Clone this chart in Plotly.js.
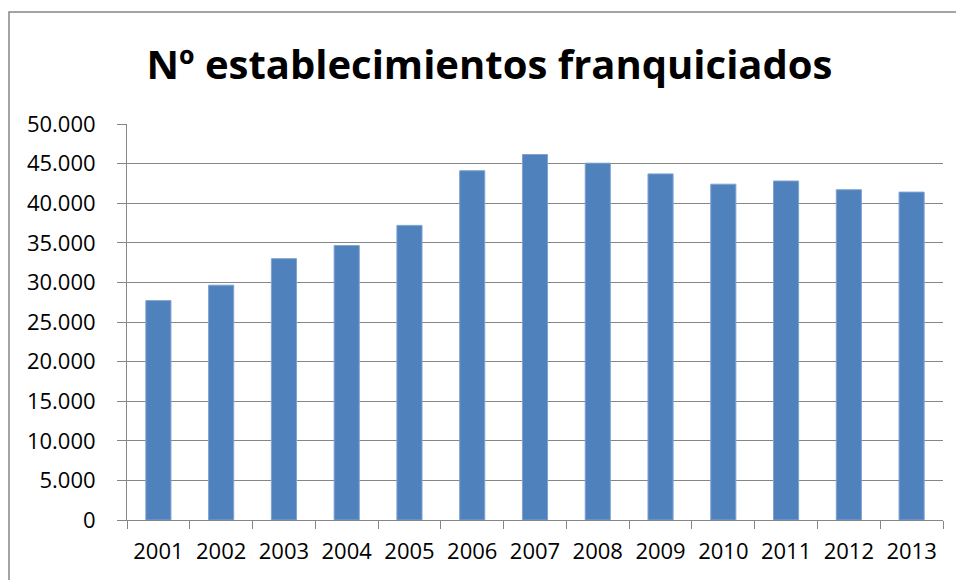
<!DOCTYPE html>
<html>
<head>
<meta charset="utf-8">
<script src="https://cdn.plot.ly/plotly-3.0.1.min.js"></script>
<style>
html,body{margin:0;padding:0;background:#fff;}
#chart{width:956px;height:580px;}
</style>
</head>
<body>
<div id="chart"></div>
<script>
const years = ["2001","2002","2003","2004","2005","2006","2007","2008","2009","2010","2011","2012","2013"];
const establecimientos = [27700, 29650, 33000, 34650, 37200, 44100, 46150, 45050, 43700, 42400, 42800, 41700, 41400];
const yTickVals = [0,5000,10000,15000,20000,25000,30000,35000,40000,45000,50000];
const yTickText = ["0","5.000","10.000","15.000","20.000","25.000","30.000","35.000","40.000","45.000","50.000"];

const L = 127, R = 13, T = 124, B = 60, W = 956, H = 580;
const pw = W - L - R, ph = H - T - B;

const trace = {
  type: 'bar',
  x: years,
  y: establecimientos,
  marker: {color: '#4F81BD', line: {color: '#7FA3D0', width: 1}},
  hoverinfo: 'x+y'
};

const layout = {
  width: W, height: H,
  margin: {l: L, r: R, t: T, b: B, pad: 0},
  paper_bgcolor: '#ffffff',
  plot_bgcolor: '#ffffff',
  showlegend: false,
  bargap: 0.6,
  title: {
    text: 'Nº establecimientos franquiciados',
    font: {family: 'Open Sans, sans-serif', size: 40, color: '#000000', weight: 'bold'},
    x: 0.512, xanchor: 'center', y: 0.888, yanchor: 'middle'
  },
  xaxis: {
    type: 'category',
    showgrid: false,
    showline: true, linecolor: '#868686', linewidth: 1,
    ticks: 'outside', ticklen: 8, tickcolor: '#868686', tickwidth: 1,
    tickson: 'boundaries',
    ticklabelstandoff: 12,
    tickfont: {family: 'Open Sans, sans-serif', size: 22, color: '#000000'},
    fixedrange: true
  },
  yaxis: {
    range: [0, 50000],
    tickvals: yTickVals,
    ticktext: yTickText,
    showgrid: true, gridcolor: '#868686', gridwidth: 1,
    zeroline: false,
    showline: true, linecolor: '#868686', linewidth: 1,
    ticks: 'outside', ticklen: 9, tickcolor: '#868686', tickwidth: 1,
    ticklabelstandoff: 17,
    tickfont: {family: 'Open Sans, sans-serif', size: 22, color: '#000000'},
    fixedrange: true
  },
  shapes: [{
    type: 'rect', xref: 'paper', yref: 'paper',
    x0: (9 - L) / pw, x1: (W + 20 - L) / pw,
    y0: (H - B - 12) / ph, y1: -(B + 20) / ph,
    line: {color: '#868686', width: 1.5},
    fillcolor: 'rgba(0,0,0,0)',
    layer: 'below'
  }]
};

Plotly.newPlot('chart', [trace], layout, {displayModeBar: false, staticPlot: true});
</script>
</body>
</html>
